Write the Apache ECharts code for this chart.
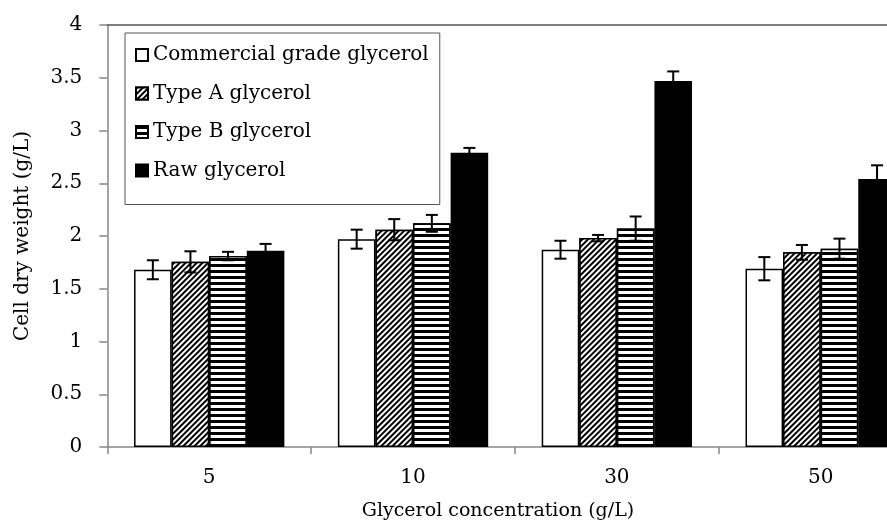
<!DOCTYPE html>
<html>
<head>
<meta charset="utf-8">
<script src="https://cdn.jsdelivr.net/npm/echarts@6/dist/echarts.min.js"></script>
<style>
html,body{margin:0;padding:0;background:#fff;}
html{overflow:hidden;}
body{width:887px;height:529px;overflow:hidden;position:relative;}
#chart{width:923px;height:529px;position:absolute;left:0;top:0;}
</style>
</head>
<body>
<div id="chart"></div>
<script>
// ---- data ----
const categories = ['5', '10', '30', '50'];
const seriesNames = ['Commercial grade glycerol', 'Type A glycerol', 'Type B glycerol', 'Raw glycerol'];
const commercial    = [1.68, 1.97, 1.87, 1.69];
const commercialErr = [0.09, 0.09, 0.085, 0.11];
const typeA         = [1.755, 2.06, 1.98, 1.845];
const typeAErr      = [0.10, 0.10, 0.03, 0.07];
const typeB         = [1.81, 2.12, 2.07, 1.88];
const typeBErr      = [0.04, 0.08, 0.115, 0.095];
const raw           = [1.86, 2.79, 3.47, 2.54];
const rawErr        = [0.065, 0.045, 0.09, 0.13];
const yTicks = { min: 0, max: 4, interval: 0.5 };

const values = [commercial, typeA, typeB, raw];
const errors = [commercialErr, typeAErr, typeBErr, rawErr];

const FONT = 'DejaVu Serif';
const CAT_GAP = 0.2625;

const decals = [
  null,
  { symbol: 'rect', symbolSize: 1, dashArrayX: [1, 0], dashArrayY: [1.2, 1.8], rotation: -Math.PI / 4, color: '#000', backgroundColor: '#fff' },
  { symbol: 'rect', symbolSize: 1, dashArrayX: [1, 0], dashArrayY: [2.5, 2.3], rotation: 0, color: '#000', backgroundColor: '#fff' },
  null
];
const fills = ['#ffffff', '#ffffff', '#ffffff', '#000000'];

const barSeries = seriesNames.map((name, i) => {
  const itemStyle = { color: fills[i], borderColor: '#000', borderWidth: 1.5 };
  if (decals[i]) itemStyle.decal = decals[i];
  return {
    name: name,
    type: 'bar',
    data: values[i],
    barGap: '0%',
    barCategoryGap: (CAT_GAP * 100) + '%',
    itemStyle: itemStyle,
    emphasis: { disabled: true },
    z: 2
  };
});

const errData = [];
values.forEach((arr, s) => {
  arr.forEach((v, c) => { errData.push([c, v, errors[s][c], s]); });
});

const errSeries = {
  type: 'custom',
  data: errData,
  z: 5,
  silent: true,
  clip: false,
  encode: { x: 0, y: 1 },
  renderItem: function (params, api) {
    const c = api.value(0), v = api.value(1), e = api.value(2), s = api.value(3);
    const band = api.size([1, 0])[0];
    const group = band * (1 - CAT_GAP);
    const bw = group / 4;
    const center = api.coord([c, v]);
    const x = center[0] - group / 2 + bw * (s + 0.5);
    const yTop = api.coord([c, v + e])[1];
    const yBot = api.coord([c, v - e])[1];
    const cap = 6;
    const st = { stroke: '#000', lineWidth: 2, fill: null };
    return {
      type: 'group',
      children: [
        { type: 'line', shape: { x1: x, y1: yTop, x2: x, y2: yBot }, style: st },
        { type: 'line', shape: { x1: x - cap, y1: yTop, x2: x + cap, y2: yTop }, style: st },
        { type: 'line', shape: { x1: x - cap, y1: yBot, x2: x + cap, y2: yBot }, style: st }
      ]
    };
  }
};

const chart = echarts.init(document.getElementById('chart'), null, { renderer: 'canvas', width: 923, height: 529 });
chart.setOption({
  backgroundColor: '#ffffff',
  animation: false,
  textStyle: { fontFamily: FONT },
  grid: { left: 107.3, right: 0.4, top: 25, bottom: 82, containLabel: false },
  legend: {
    data: seriesNames,
    orient: 'vertical',
    left: 125,
    top: 33,
    padding: [12, 11, 24, 10],
    itemGap: 18.5,
    itemWidth: 12,
    itemHeight: 12,
    icon: 'rect',
    borderColor: '#555',
    borderWidth: 1,
    backgroundColor: '#fff',
    selectedMode: false,
    textStyle: { fontFamily: FONT, fontSize: 20, color: '#000', lineHeight: 20 }
  },
  xAxis: [{
    type: 'category',
    data: categories,
    boundaryGap: true,
    axisLine: { lineStyle: { color: '#868686', width: 1.5 } },
    axisTick: { show: true, length: 7, inside: false, lineStyle: { color: '#868686', width: 1.5 } },
    axisLabel: { fontFamily: FONT, fontSize: 20, color: '#000', margin: 21 },
    name: 'Glycerol concentration (g/L)',
    nameLocation: 'middle',
    nameGap: 55,
    nameTextStyle: { fontFamily: FONT, fontSize: 19, color: '#000', padding: [0, 34, 0, 0] }
  }, {
    type: 'category',
    data: categories,
    position: 'top',
    axisLine: { show: true, lineStyle: { color: '#555', width: 1.5 } },
    axisTick: { show: false },
    axisLabel: { show: false }
  }],
  yAxis: {
    type: 'value',
    min: yTicks.min,
    max: yTicks.max,
    interval: yTicks.interval,
    splitLine: { show: false },
    axisLine: { show: true, lineStyle: { color: '#868686', width: 1.5 } },
    axisTick: { show: true, length: 8, lineStyle: { color: '#868686', width: 1.5 } },
    axisLabel: { fontFamily: FONT, fontSize: 20, color: '#000', margin: 25 },
    name: 'Cell dry weight (g/L)',
    nameLocation: 'middle',
    nameRotate: 90,
    nameGap: 75,
    nameTextStyle: { fontFamily: FONT, fontSize: 20, color: '#000' }
  },
  series: barSeries.concat([errSeries])
});
</script>
</body>
</html>
